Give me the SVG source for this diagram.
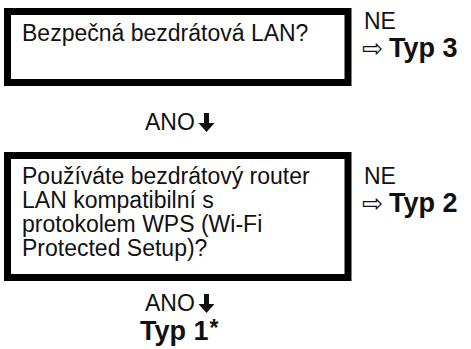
<svg xmlns="http://www.w3.org/2000/svg" width="471" height="349" viewBox="0 0 471 349">
<style>
.box{fill:#fff;stroke:#000;stroke-width:7}
.t{font-family:"Liberation Sans",Arial,sans-serif;font-size:23px;fill:#111}
.b{font-family:"Liberation Sans",Arial,sans-serif;font-size:27px;font-weight:bold;fill:#111}
.ar{font-family:"DejaVu Sans",sans-serif;font-size:25px;fill:#111}
.dn{fill:#111}
</style>
<rect width="471" height="349" fill="#fff"/>
<g id="q1">
<rect class="box" x="7.5" y="11.5" width="340.5" height="71"/>
<text class="t" x="22" y="41">Bezpečná bezdrátová LAN?</text>
</g>
<g id="r3">
<text class="t" x="364" y="29">NE</text>
<text x="362" y="57"><tspan class="ar">⇨</tspan><tspan class="b" dx="6">Typ 3</tspan></text>
</g>
<g id="q2">
<rect class="box" x="7.5" y="155.5" width="340.5" height="122"/>
<text class="t" x="22" y="184">Používáte bezdrátový router</text>
<text class="t" x="22" y="208">LAN kompatibilní s</text>
<text class="t" x="22" y="232">protokolem WPS (Wi-Fi</text>
<text class="t" x="22" y="256">Protected Setup)?</text>
</g>
<g id="r2">
<text class="t" x="364" y="184">NE</text>
<text x="362" y="212"><tspan class="ar">⇨</tspan><tspan class="b" dx="6">Typ 2</tspan></text>
</g>
<g id="r1">
<text class="b" x="140" y="340">Typ 1<tspan class="t" dx="1" dy="-4" font-size="20">*</tspan></text>
</g>
<g id="connectors">
<text class="t" x="145" y="130">ANO</text>
<path class="dn" d="M204 113h5v10h5.5l-8 9l-8-9h5.5z"/>
<text class="t" x="145" y="311">ANO</text>
<path class="dn" d="M204 294h5v10h5.5l-8 9l-8-9h5.5z"/>
</g>
</svg>
